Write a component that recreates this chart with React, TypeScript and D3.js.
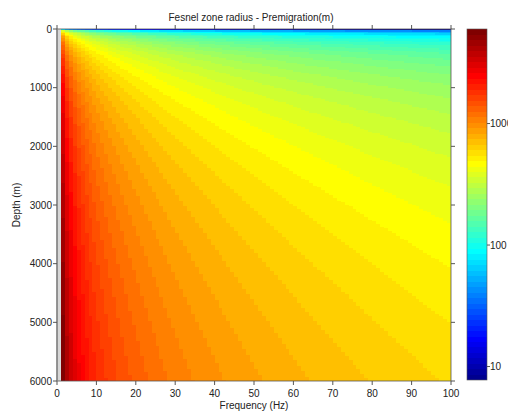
import React from "react";
import * as d3 from "d3";

// ---- data ----
const FREQUENCIES: number[] = d3.range(1, 101); // Hz, grid vertices 1..100
const DEPTHS: number[] = [1, ...d3.range(25, 6001, 25)]; // m, grid vertices
const VELOCITY = 12000; // m/s (value implied by the colour range)
const X_TICKS: number[] = [0, 10, 20, 30, 40, 50, 60, 70, 80, 90, 100];
const Y_TICKS: number[] = [0, 1000, 2000, 3000, 4000, 5000, 6000];
const CB_TICKS: number[] = [10, 100, 1000];
const TITLE = "Fesnel zone radius - Premigration(m)";
const X_LABEL = "Frequency (Hz)";
const Y_LABEL = "Depth (m)";

const radius = (z: number, f: number) => Math.sqrt((VELOCITY * z) / (2 * f));

// MATLAB jet(m)
function jet(m: number): string[] {
  const n = Math.ceil(m / 4);
  const u: number[] = [];
  for (let i = 1; i <= n; i++) u.push(i / n);
  for (let i = 1; i < n; i++) u.push(1);
  for (let i = n; i >= 1; i--) u.push(i / n);
  const gOff = Math.ceil(n / 2) - (m % 4 === 1 ? 1 : 0);
  const r = new Array(m).fill(0);
  const g = new Array(m).fill(0);
  const b = new Array(m).fill(0);
  for (let k = 0; k < u.length; k++) {
    const gi = gOff + k + 1;
    const ri = gi + n;
    const bi = gi - n;
    if (gi >= 1 && gi <= m) g[gi - 1] = u[k];
    if (ri >= 1 && ri <= m) r[ri - 1] = u[k];
    if (bi >= 1 && bi <= m) b[bi - 1] = u[k];
  }
  return r.map((_, i) => d3.rgb(r[i] * 255, g[i] * 255, b[i] * 255).formatHex());
}

const NCOL = 64;
const CMAP = jet(NCOL);

export default function App() {
  const W = 508, H = 413;
  const x0 = 57, x1 = 451, y0 = 29, y1 = 381;
  const xs = d3.scaleLinear().domain([0, 100]).range([x0, x1]);
  const ys = d3.scaleLinear().domain([0, 6000]).range([y0, y1]);

  const cmin = d3.min(FREQUENCIES.flatMap((f) => DEPTHS.map((z) => radius(z, f))))!;
  const cmax = d3.max(FREQUENCIES.flatMap((f) => DEPTHS.map((z) => radius(z, f))))!;
  const lmin = Math.log10(cmin), lmax = Math.log10(cmax);
  const idx = (v: number) => {
    const t = (Math.log10(v) - lmin) / (lmax - lmin);
    return Math.max(0, Math.min(NCOL - 1, Math.floor(t * NCOL)));
  };

  const cells: JSX.Element[] = [];
  for (let i = 0; i < FREQUENCIES.length - 1; i++) {
    const f = FREQUENCIES[i];
    const xa = xs(f), xb = xs(FREQUENCIES[i + 1]);
    let start = 0;
    let cur = idx(radius(DEPTHS[0], f));
    for (let j = 1; j <= DEPTHS.length - 1; j++) {
      const c = j < DEPTHS.length - 1 ? idx(radius(DEPTHS[j], f)) : -1;
      if (c !== cur) {
        const ya = ys(DEPTHS[start]), yb = ys(DEPTHS[j]);
        cells.push(
          <rect key={`${i}-${start}`} x={xa} y={ya} width={xb - xa + 0.4} height={yb - ya + 0.4} fill={CMAP[cur]} />
        );
        start = j;
        cur = c;
      }
    }
  }

  const cbx0 = 467, cbx1 = 487;
  const cs = d3.scaleLog().domain([cmin, cmax]).range([y1 - 1, y0]);
  const cbBands = CMAP.map((col, k) => {
    const va = Math.pow(10, lmin + ((lmax - lmin) * k) / NCOL);
    const vb = Math.pow(10, lmin + ((lmax - lmin) * (k + 1)) / NCOL);
    return <rect key={k} x={cbx0} y={cs(vb)} width={cbx1 - cbx0} height={cs(va) - cs(vb) + 0.4} fill={col} />;
  });

  const font = "Liberation Sans, Arial, sans-serif";
  const axisCol = "#555";
  return (
    <svg width={W} height={H} style={{ position: "absolute", left: 0, top: 0, background: "#fff" }} fontFamily={font} fontSize={10}>
      <rect x={0} y={0} width={W} height={H} fill="#fff" />
      <rect x={x0} y={y0} width={xs(FREQUENCIES[0]) - x0} height={y1 - y0} fill="#d6d6d6" />
      <g shapeRendering="crispEdges">{cells}</g>
      <rect x={x0} y={y0} width={x1 - x0} height={y1 - y0} fill="none" stroke={axisCol} strokeWidth={0.8} />
      <line x1={x0} x2={x0} y1={y0} y2={y1} stroke="#888" strokeWidth={1.5} />
      {X_TICKS.map((t) => (
        <g key={`xt${t}`}>
          <line x1={xs(t)} x2={xs(t)} y1={y1} y2={y1 + 4} stroke={axisCol} />
          <line x1={xs(t)} x2={xs(t)} y1={y0} y2={y0 - 4} stroke={axisCol} />
          <text x={xs(t)} y={397} textAnchor="middle" fill="#222">{t}</text>
        </g>
      ))}
      {Y_TICKS.map((t) => (
        <g key={`yt${t}`}>
          <line x1={x0 - 4} x2={x0} y1={ys(t)} y2={ys(t)} stroke={axisCol} />
          <line x1={x1} x2={x1 + 4} y1={ys(t)} y2={ys(t)} stroke={axisCol} />
          <text x={x0 - 5} y={ys(t) + 3.5} textAnchor="end" fill="#222">{t}</text>
        </g>
      ))}
      <text x={254} y={409} textAnchor="middle" fill="#222">{X_LABEL}</text>
      <text transform={`translate(20,${(y0 + y1) / 2}) rotate(-90)`} textAnchor="middle" fill="#222">{Y_LABEL}</text>
      <text x={251} y={21} textAnchor="middle" fill="#222">{TITLE}</text>
      <g shapeRendering="crispEdges">{cbBands}</g>
      <rect x={cbx0} y={y0} width={cbx1 - cbx0} height={y1 - 1 - y0} fill="none" stroke={axisCol} strokeWidth={0.6} />
      {CB_TICKS.map((t) => (
        <g key={`ct${t}`}>
          <line x1={cbx1} x2={cbx1 + 3} y1={cs(t)} y2={cs(t)} stroke={axisCol} />
          <text x={490} y={cs(t) + 3.5} fill="#222">{t}</text>
        </g>
      ))}
    </svg>
  );
}
